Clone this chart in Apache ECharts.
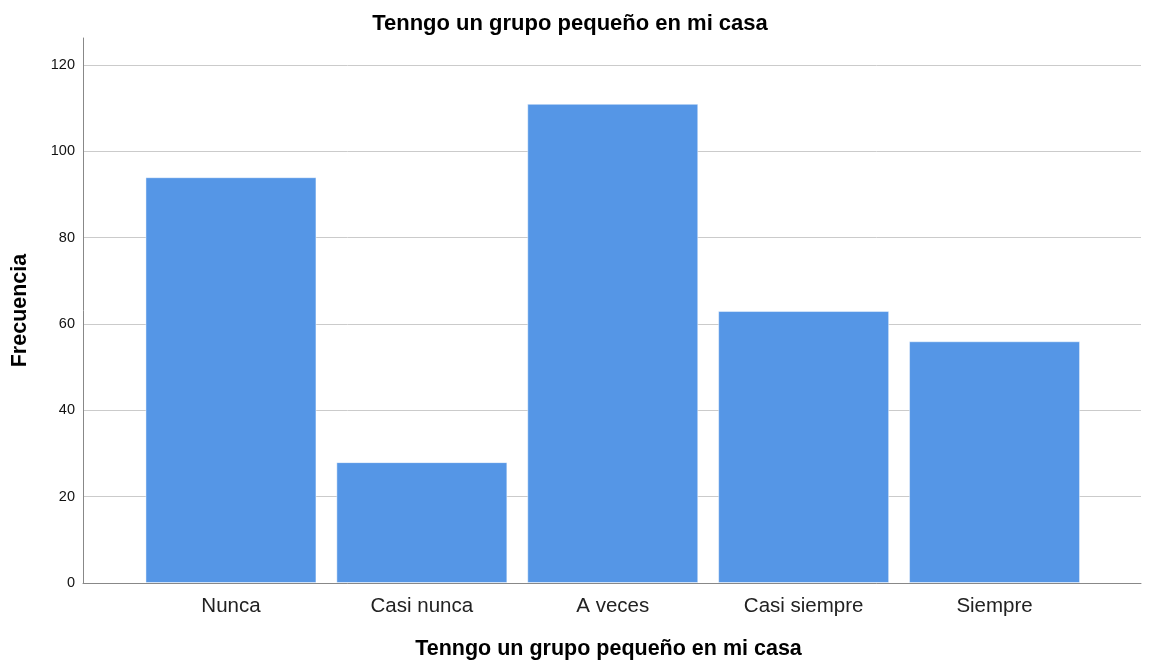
<!DOCTYPE html>
<html>
<head>
<meta charset="utf-8">
<style>
  html, body { margin: 0; padding: 0; background: #ffffff; }
  #chart { width: 1149px; height: 666px; }
</style>
<script src="https://cdn.jsdelivr.net/npm/echarts@6/dist/echarts.min.js"></script>
</head>
<body>
<div id="chart"></div>
<script>
// Frequency of answers for "Tenngo un grupo pequeño en mi casa"
const categories = ['Nunca', 'Casi nunca', 'A veces', 'Casi siempre', 'Siempre'];
const frequencies = [94, 28, 111, 63, 56];
const yTicks = [0, 20, 40, 60, 80, 100, 120];

const chartTitle = 'Tenngo un grupo pequeño en mi casa';
const xAxisTitle = 'Tenngo un grupo pequeño en mi casa';
const yAxisTitle = 'Frecuencia';

const yMax = 126.25;
const fontFamily = '"Liberation Sans", Arial, sans-serif';
const gridColor = '#cbcbcb';
const axisColor = '#888888';

// split lines at every tick, none at the open top of the axis
const splitColors = yTicks.map(() => gridColor).concat(['rgba(0,0,0,0)']);

const chart = echarts.init(document.getElementById('chart'), null, { renderer: 'canvas' });

chart.setOption({
  animation: false,
  backgroundColor: '#ffffff',
  title: {
    text: chartTitle,
    left: 565,
    top: 8,
    textAlign: 'center',
    textStyle: { fontFamily, fontSize: 22, fontWeight: 'bold', color: '#000000' }
  },
  grid: [
    // frame: axes and gridlines
    { left: 83, right: 8, top: 38, bottom: 83, containLabel: false },
    // bars, inset from the frame on both sides
    { left: 135.5, right: 59, top: 38, bottom: 83, containLabel: false }
  ],
  xAxis: [
    {
      gridIndex: 0,
      type: 'value',
      min: 0,
      max: 1,
      axisLine: { show: true, lineStyle: { color: axisColor, width: 1 } },
      axisTick: { show: false },
      axisLabel: { show: false },
      splitLine: { show: false },
      name: xAxisTitle,
      nameLocation: 'middle',
      nameGap: 55,
      nameTextStyle: {
        fontFamily, fontSize: 21.5, fontWeight: 'bold', color: '#000000',
        padding: [0, 7, 0, 0]
      }
    },
    {
      gridIndex: 1,
      type: 'category',
      data: categories,
      axisLine: { show: false },
      axisTick: { show: false },
      axisLabel: { fontFamily, fontSize: 20.5, color: '#222222', margin: 13 },
      splitLine: { show: false }
    }
  ],
  yAxis: [
    {
      gridIndex: 0,
      type: 'value',
      min: 0,
      max: yMax,
      interval: 20,
      axisLine: { show: true, lineStyle: { color: axisColor, width: 1 } },
      axisTick: { show: false },
      axisLabel: {
        fontFamily, fontSize: 14.5, color: '#111111', margin: 8,
        showMaxLabel: false,
        formatter: (v) => (yTicks.includes(v) ? String(v) : '')
      },
      splitLine: { show: true, lineStyle: { color: splitColors, width: 1 } },
      name: yAxisTitle,
      nameLocation: 'middle',
      nameGap: 52,
      nameRotate: 90,
      nameTextStyle: { fontFamily, fontSize: 21.5, fontWeight: 'bold', color: '#000000' }
    },
    {
      gridIndex: 1,
      type: 'value',
      min: 0,
      max: yMax,
      show: false,
      splitLine: { show: false }
    }
  ],
  series: [
    {
      type: 'bar',
      xAxisIndex: 1,
      yAxisIndex: 1,
      data: frequencies,
      barWidth: 171,
      itemStyle: {
        color: '#5596e6',
        borderColor: 'rgba(255,255,255,0.45)',
        borderWidth: 1
      },
      z: 3
    }
  ]
});
</script>
</body>
</html>
